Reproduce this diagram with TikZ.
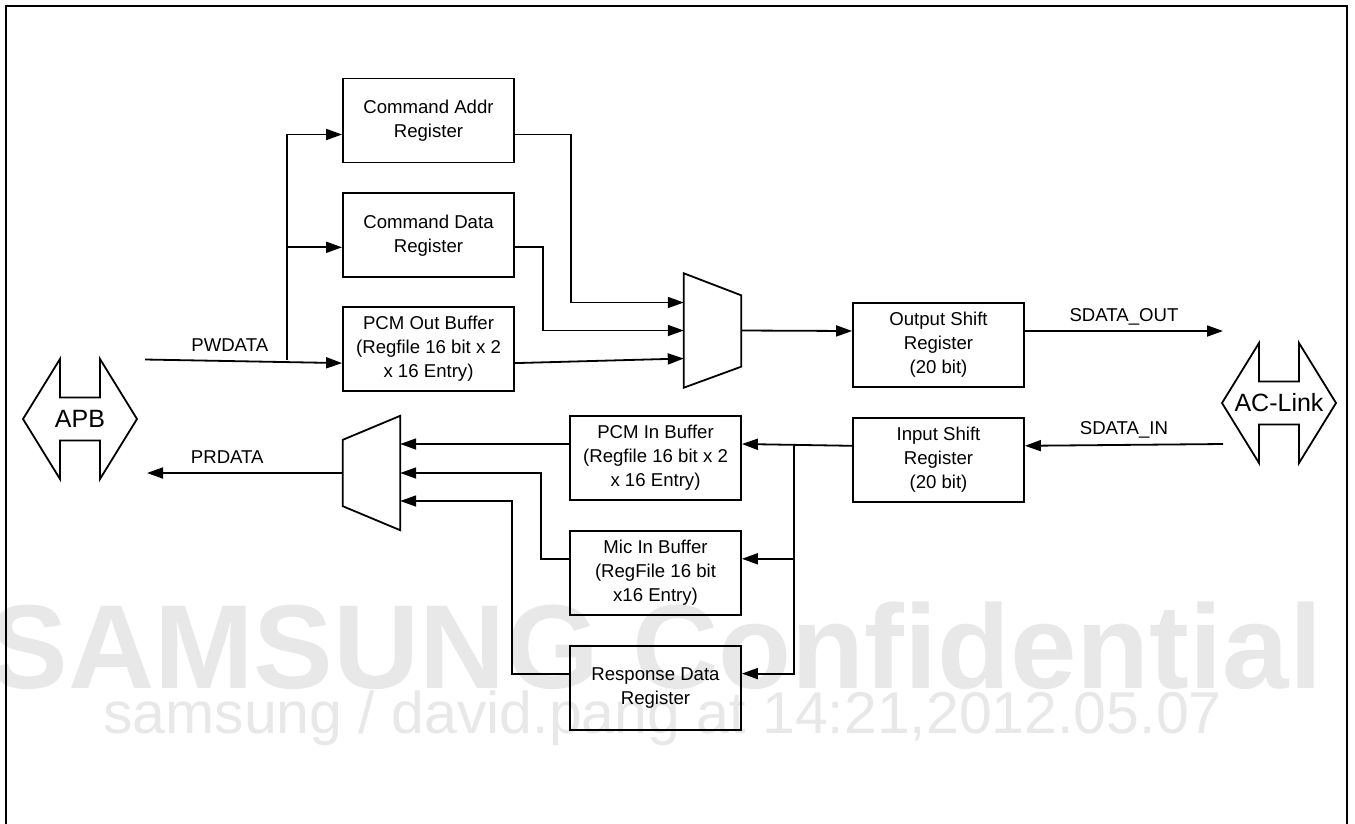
\documentclass[tikz,border=0pt]{standalone}
\usepackage{fontspec}
\setmainfont{Liberation Sans}
\usetikzlibrary{arrows.meta,positioning}
\definecolor{wmgray}{HTML}{E8E8E8}
\tikzset{>={Triangle[length=16pt,width=11pt]},box/.style={draw,line width=1.8pt,minimum width=171pt,minimum height=84pt,align=center,inner sep=2pt,font=\fontsize{18.6}{24}\selectfont},arr/.style={->,line width=1.8pt},wire/.style={line width=1.8pt,line join=miter},sig/.style={font=\fontsize{18.6}{24}\selectfont,anchor=base,yshift=10pt},busname/.style={font=\fontsize{25}{30}\selectfont,inner sep=0pt},muxbox/.style={minimum width=57pt,minimum height=114pt,inner sep=0pt},watermark/.style={text=wmgray,inner sep=0pt,anchor=base},busarrow/.pic={\draw[wire] (-57,0)--(-20,-60)--(-20,-21.5)--(20,-21.5)--(20,-60)--(57,0)--(20,60)--(20,21.5)--(-20,21.5)--(-20,60)--cycle;}}

\begin{document}
\begin{tikzpicture}[x=1pt,y=-1pt]
\useasboundingbox (0,0) rectangle (1355,823);
\node[watermark,font=\fontsize{119.5}{120}\selectfont\bfseries] (wm1) at (655.5,688) {SAMSUNG Confidential};
\node[watermark,font=\fontsize{59}{59}\selectfont] (wm2) at (662.5,733) {samsung / david.pang at 14:21,2012.05.07};
\draw[line width=2pt] (6,6) rectangle (1346.5,840);
% write side
\node[box] (cmdaddr) at (428.5,120.5) {Command Addr\\Register};
\node[box,below=29pt of cmdaddr] (cmddata) {Command Data\\Register};
\node[box,below=28pt of cmddata] (pcmout) {PCM Out Buffer\\(Regfile 16 bit x 2\\x 16 Entry)};
\node[muxbox] (mux1) at (712.5,330.5) {};
\draw[wire] (mux1.north west)--([yshift=-22pt]mux1.north east)--([yshift=21pt]mux1.south east)--(mux1.south west)--cycle;
\node[box] (outshift) at (938.5,345) {Output Shift\\Register\\(20 bit)};
% read side
\node[box] (pcmin) at (655.5,458) {PCM In Buffer\\(Regfile 16 bit x 2\\x 16 Entry)};
\node[box,below=29pt of pcmin] (micin) {Mic In Buffer\\(RegFile 16 bit\\x16 Entry)};
\node[box,below=29pt of micin] (resp) {Response Data\\Register};
\node[box,below=29pt of outshift] (inshift) {Input Shift\\Register\\(20 bit)};
\node[muxbox] (mux2) at (371.5,473) {};
\draw[wire] (mux2.north east)--(mux2.south east)--([yshift=24pt]mux2.south west)--([yshift=-24pt]mux2.north west)--cycle;
% buses
\node[busname] (apb) at (80,419) {APB};
\pic at (apb) {busarrow};
\node[busname] (aclink) at (1279,403) {AC-Link};
\pic at (aclink) {busarrow};
\coordinate (pwin) at (145,359.5);
\coordinate (pwbus) at (287,359.5);
\coordinate (sdout) at (1223,331);
\coordinate (sdin) at (1223,444);
\coordinate (rbus) at (794,444);
\coordinate (prout) at (147,473);
\draw[arr] (pwin)--node[sig,pos=0.43]{PWDATA}([yshift=-14pt]pcmout.west);
\draw[arr] (pwbus)|-([yshift=-14pt]cmdaddr.west);\draw[arr] (pwbus)|-([yshift=-12pt]cmddata.west);
\draw[arr] ([yshift=-14pt]cmdaddr.east)--++(56,0)|-([yshift=28pt]mux1.west);
\draw[arr] ([yshift=-12pt]cmddata.east)--++(28,0)|-(mux1.west);
\draw[arr] ([yshift=-14pt]pcmout.east)--([yshift=-28pt]mux1.west);
\draw[arr] (mux1.east)--([yshift=14pt]outshift.west);
\draw[arr] ([yshift=14pt]outshift.east)--node[sig]{SDATA\_OUT}(sdout);
\draw[arr] (sdin)--node[sig]{SDATA\_IN}([yshift=14pt]inshift.east);
\draw[arr] ([yshift=14pt]inshift.west)--([yshift=14pt]pcmin.east);
\draw[arr] (rbus)|-([yshift=14pt]micin.east);\draw[arr] (rbus)|-([yshift=14pt]resp.east);
\draw[arr] ([yshift=14pt]pcmin.west)--([yshift=29pt]mux2.east);
\draw[arr] ([yshift=14pt]micin.west)--++(-28,0)|-(mux2.east);
\draw[arr] ([yshift=14pt]resp.west)--++(-57,0)|-([yshift=-28pt]mux2.east);
\draw[arr] (mux2.west)--node[sig,pos=0.59]{PRDATA}(prout);
\end{tikzpicture}
\end{document}
